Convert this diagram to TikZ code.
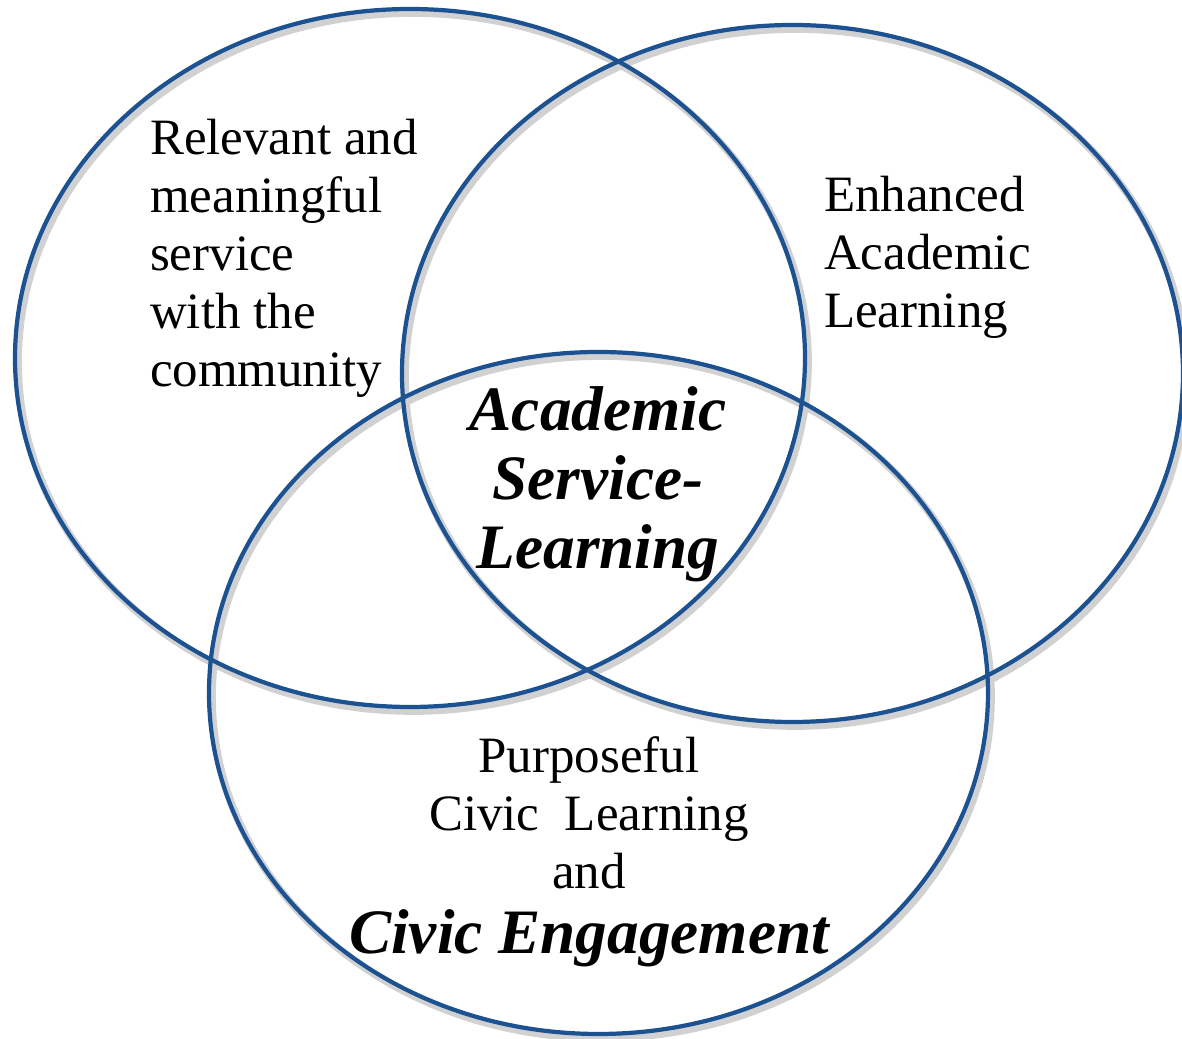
\documentclass[tikz,border=0pt]{standalone}
\usepackage{fontspec}
\setmainfont{Liberation Serif}
\definecolor{ringblue}{RGB}{28,82,145}
\begin{document}
\begin{tikzpicture}[line width=1.2pt,
    ring/.style={draw=ringblue},
    ringshadow/.style={draw=black!18, line width=2.2pt},
    plain/.style={inner sep=0pt, font=\fontsize{14.5}{16.5}\selectfont},
    strong/.style={inner sep=0pt, font=\fontsize{18}{19.6}\selectfont\bfseries\itshape}]
        \useasboundingbox (0,0) rectangle (11.82,10.39);

        % soft shadows
        \draw[ringshadow] (4.13,6.77) ellipse (3.95 and 3.49);
        \draw[ringshadow] (7.955,6.615) ellipse (3.905 and 3.485);
        \draw[ringshadow] (6.015,3.42) ellipse (3.895 and 3.41);

        % the three rings
        \draw[ring] (4.10,6.81) ellipse (3.95 and 3.49);
        \draw[ring] (7.925,6.655) ellipse (3.905 and 3.485);
        \draw[ring] (5.985,3.46) ellipse (3.895 and 3.41);

        \node[plain, align=left, anchor=north west] (service) at (1.48,9.22)
          {Relevant and\\meaningful\\service\\with the\\community};
        \node[plain, align=left, anchor=north west] (academic) at (8.22,8.65)
          {Enhanced\\Academic\\Learning};
        \node[strong, align=center, anchor=north] (core) at (5.98,6.54)
          {Academic\\Service-\\Learning};
        \node[plain, align=center, anchor=north] (civic) at (5.89,3.04)
          {Purposeful\\Civic~ Learning\\and\\[2pt]{\fontsize{18}{19.6}\selectfont\bfseries\itshape Civic Engagement}};
      \end{tikzpicture}
\end{document}
